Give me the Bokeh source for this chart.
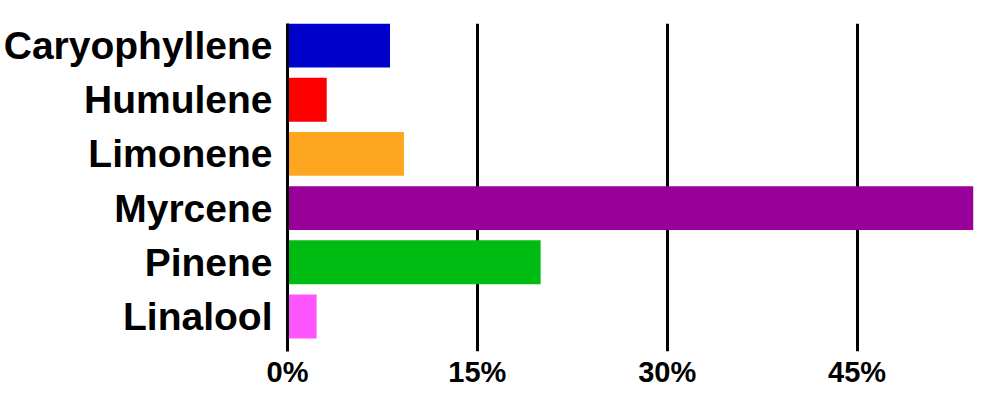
from bokeh.plotting import figure
from bokeh.models import ColumnDataSource, FixedTicker, PrintfTickFormatter, Range1d
from bokeh.embed import file_html
from bokeh.resources import INLINE

# Data
terpenes = ["Caryophyllene", "Humulene", "Limonene", "Myrcene", "Pinene", "Linalool"]
percent = [8.1, 3.1, 9.2, 54.2, 20.0, 2.3]
colors = ["#0000CC", "#FF0000", "#FFA621", "#990099", "#00BB11", "#FF55FF"]
x_ticks = [0, 15, 30, 45]

n = len(terpenes)
ypos = [n - 1 - i for i in range(n)]

source = ColumnDataSource(dict(name=terpenes, value=percent, color=colors, y=ypos))

p = figure(width=992, height=392, output_backend="svg", toolbar_location=None,
           x_range=Range1d(0, max(percent)), y_range=Range1d(-0.646, n - 1 + 0.406),
           min_border_left=287, min_border_right=19, min_border_top=23, min_border_bottom=41)

p.hbar(y="y", left=0, right="value", height=0.81, fill_color="color",
       line_color=None, source=source)

p.outline_line_color = None
p.background_fill_color = "white"

# x axis
p.xaxis.ticker = FixedTicker(ticks=x_ticks)
p.xaxis.formatter = PrintfTickFormatter(format="%d%%")
p.xaxis.axis_line_color = None
p.xaxis.major_tick_line_color = None
p.xaxis.minor_tick_line_color = None
p.xaxis.major_tick_out = 0
p.xaxis.major_tick_in = 0
p.xaxis.major_label_standoff = 4
p.xaxis.major_label_text_font = "Liberation Sans"
p.xaxis.major_label_text_font_style = "bold"
p.xaxis.major_label_text_font_size = "29px"
p.xaxis.major_label_text_color = "black"

# y axis
p.yaxis.ticker = FixedTicker(ticks=ypos)
p.yaxis.major_label_overrides = {y: t for y, t in zip(ypos, terpenes)}
p.yaxis.axis_line_color = "black"
p.yaxis.axis_line_width = 3
p.yaxis.major_tick_line_color = None
p.yaxis.minor_tick_line_color = None
p.yaxis.major_tick_out = 0
p.yaxis.major_tick_in = 0
p.yaxis.major_label_standoff = 15
p.yaxis.major_label_text_font = "Liberation Sans"
p.yaxis.major_label_text_font_style = "bold"
p.yaxis.major_label_text_font_size = "39px"
p.yaxis.major_label_text_color = "black"

# grids
p.ygrid.grid_line_color = None
p.xgrid.ticker = FixedTicker(ticks=x_ticks)
p.xgrid.grid_line_color = "black"
p.xgrid.grid_line_width = 3
p.xgrid.level = "underlay"

open("out.html", "w").write(file_html(p, INLINE))
